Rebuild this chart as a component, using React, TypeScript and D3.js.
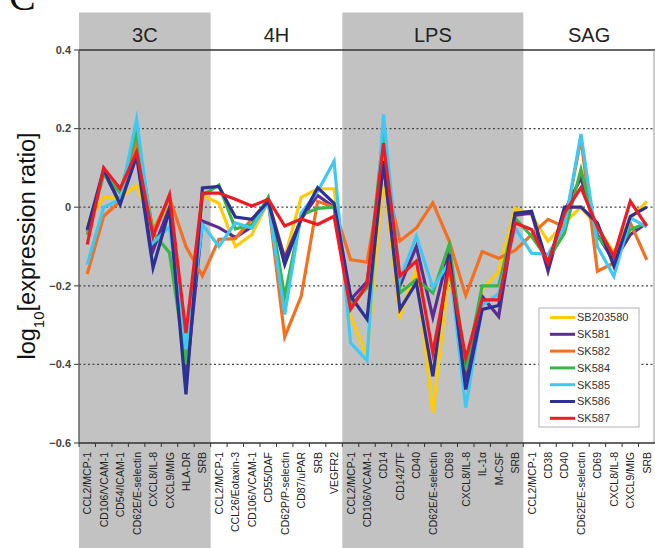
import React, { useEffect, useRef } from 'react';
import * as d3 from 'd3';

// treatments (column groups) and the markers measured in each
const groupNames = ['3C', '4H', 'LPS', 'SAG'];
const markers3C = ['CCL2/MCP-1', 'CD106/VCAM-1', 'CD54/ICAM-1', 'CD62E/E-selectin', 'CXCL8/IL-8', 'CXCL9/MIG', 'HLA-DR', 'SRB'];
const markers4H = ['CCL2/MCP-1', 'CCL26/Eotaxin-3', 'CD106/VCAM-1', 'CD55/DAF', 'CD62P/P-selectin', 'CD87/uPAR', 'SRB', 'VEGFR2'];
const markersLPS = ['CCL2/MCP-1', 'CD106/VCAM-1', 'CD14', 'CD142/TF', 'CD40', 'CD62E/E-selectin', 'CD69', 'CXCL8/IL-8', 'IL-1\u03b1', 'M-CSF', 'SRB'];
const markersSAG = ['CCL2/MCP-1', 'CD38', 'CD40', 'CD62E/E-selectin', 'CD69', 'CXCL8/IL-8', 'CXCL9/MIG', 'SRB'];

const compounds = ['SB203580', 'SK581', 'SK582', 'SK584', 'SK585', 'SK586', 'SK587'];
const compoundColors = ['#ffcb05', '#5c2d91', '#f37021', '#39b54a', '#3fc8f4', '#2e3192', '#ed1c24'];

// log10 expression ratios (3C | 4H | LPS | SAG)
const sb203580 = [
  -0.04, 0.026, 0.024, 0.055, -0.05, 0.0, -0.38, 0.03,
  0.01, -0.1, -0.07, 0.015, -0.128, 0.025, 0.047, 0.047,
  -0.277, -0.38, 0.08, -0.277, -0.158, -0.523, -0.16, -0.44, -0.21, -0.163, -0.003,
  -0.02, -0.087, -0.04, 0.0, -0.05, -0.117, -0.03, 0.015,
];
const sk581 = [
  -0.06, 0.09, 0.01, 0.15, -0.11, 0.0, -0.44, -0.035,
  -0.052, -0.077, -0.05, 0.015, -0.13, -0.03, 0.03, 0.0,
  -0.235, -0.19, 0.104, -0.2, -0.1, -0.28, -0.11, -0.447, -0.227, -0.278, -0.02,
  -0.015, -0.163, -0.01, 0.075, -0.07, -0.138, -0.07, -0.04,
];
const sk582 = [
  -0.17, -0.023, 0.015, 0.163, -0.06, 0.024, -0.1, -0.175,
  -0.082, -0.08, -0.03, 0.015, -0.33, -0.227, 0.015, 0.0,
  -0.133, -0.14, 0.1, -0.086, -0.053, 0.011, -0.087, -0.225, -0.113, -0.13, -0.11,
  -0.07, -0.031, -0.05, 0.175, -0.163, -0.142, -0.04, -0.134,
];
const sk584 = [
  -0.07, 0.083, 0.036, 0.19, -0.065, -0.116, -0.4, 0.03,
  0.056, -0.055, -0.045, 0.025, -0.227, -0.02, -0.003, 0.0,
  -0.25, -0.205, 0.19, -0.218, -0.184, -0.218, -0.095, -0.413, -0.2, -0.2, -0.028,
  -0.074, -0.134, -0.066, 0.096, -0.074, -0.125, -0.057, -0.04,
];
const sk585 = [
  -0.146, 0.0, 0.02, 0.223, -0.09, -0.05, -0.36, -0.044,
  -0.1, -0.04, -0.053, 0.015, -0.273, -0.015, 0.04, 0.117,
  -0.345, -0.39, 0.236, -0.184, -0.074, -0.205, -0.14, -0.51, -0.25, -0.22, -0.053,
  -0.117, -0.12, -0.05, 0.186, -0.1, -0.176, -0.027, -0.05,
];
const sk586 = [
  -0.057, 0.096, 0.007, 0.13, -0.154, -0.006, -0.476, 0.049,
  0.053, -0.025, -0.031, 0.015, -0.146, -0.03, 0.05, 0.01,
  -0.226, -0.285, 0.117, -0.26, -0.192, -0.43, -0.12, -0.464, -0.26, -0.25, -0.015,
  -0.01, -0.15, 0.0, 0.0, -0.04, -0.15, -0.023, 0.0,
];
const sk587 = [
  -0.095, 0.1, 0.047, 0.14, -0.074, 0.032, -0.32, 0.036,
  0.036, 0.02, 0.003, 0.02, -0.048, -0.03, -0.044, -0.023,
  -0.26, -0.197, 0.163, -0.175, -0.137, -0.37, -0.15, -0.384, -0.236, -0.236, -0.04,
  -0.057, -0.142, -0.015, 0.05, -0.05, -0.125, 0.015, -0.048,
];

const yTicks = [0.4, 0.2, 0, -0.2, -0.4, -0.6];

const W = 655;
const H = 548;
const FONT = '"Liberation Sans", Arial, sans-serif';

const App = () => {
  const svgRef = useRef<SVGSVGElement>(null);

  useEffect(() => {
    if (!svgRef.current) return;
    const svg = d3.select(svgRef.current);
    svg.selectAll('*').remove();

    const groupMarkers = [markers3C, markers4H, markersLPS, markersSAG];
    const keys: string[] = [];
    const labels: string[] = [];
    groupMarkers.forEach((list, gi) => {
      list.forEach(m => {
        keys.push(groupNames[gi] + '|' + m);
        labels.push(m);
      });
    });
    const seriesValues = [sb203580, sk581, sk582, sk584, sk585, sk586, sk587];

    const x = d3.scaleBand<string>().domain(keys).range([79, 655]).padding(0);
    const y = d3.scaleLinear().domain([-0.6, 0.4]).range([443, 50]);
    const bw = x.bandwidth();
    const cx = (i: number) => (x(keys[i]) as number) + bw / 2;

    // shaded treatment blocks
    groupNames.forEach((g, gi) => {
      const list = groupMarkers[gi];
      const x0 = x(g + '|' + list[0]) as number;
      const x1 = (x(g + '|' + list[list.length - 1]) as number) + bw;
      if (gi % 2 === 0) {
        svg.append('rect')
          .attr('x', x0).attr('y', 12.5)
          .attr('width', x1 - x0).attr('height', H - 12.5)
          .attr('fill', '#c2c2c2');
      }
      svg.append('text')
        .attr('x', (x0 + x1) / 2).attr('y', 42)
        .attr('text-anchor', 'middle')
        .style('font-family', FONT).style('font-size', '20px')
        .attr('fill', '#222')
        .text(g);
    });

    // grid lines
    svg.append('g').selectAll('line')
      .data(yTicks.filter(t => t !== 0.4 && t !== -0.6))
      .enter().append('line')
      .attr('x1', 79).attr('x2', 655)
      .attr('y1', d => y(d)).attr('y2', d => y(d))
      .attr('stroke', '#444').attr('stroke-width', 1.2)
      .attr('stroke-dasharray', '2,2.5');

    svg.append('line')
      .attr('x1', 79).attr('x2', 655).attr('y1', y(0.4)).attr('y2', y(0.4))
      .attr('stroke', '#333').attr('stroke-width', 1.3);
    svg.append('line')
      .attr('x1', 654).attr('x2', 654).attr('y1', y(0.4)).attr('y2', y(-0.6))
      .attr('stroke', '#999').attr('stroke-width', 1);

    // y axis
    svg.append('line')
      .attr('x1', 79).attr('x2', 79).attr('y1', y(0.4)).attr('y2', y(-0.6))
      .attr('stroke', '#555').attr('stroke-width', 1.3);
    const yt = svg.append('g');
    yt.selectAll('line').data(yTicks).enter().append('line')
      .attr('x1', 74).attr('x2', 79)
      .attr('y1', d => y(d)).attr('y2', d => y(d))
      .attr('stroke', '#555').attr('stroke-width', 1.2);
    yt.selectAll('text').data(yTicks).enter().append('text')
      .attr('x', 71).attr('y', d => y(d)).attr('dy', '0.35em')
      .attr('text-anchor', 'end')
      .style('font-family', FONT).style('font-size', '11px').style('font-weight', 'bold')
      .attr('fill', '#444')
      .text(d => (d === 0 ? '0' : d3.format('.1f')(d)));

    const title = svg.append('text')
      .attr('transform', 'translate(35,246) rotate(-90)')
      .attr('text-anchor', 'middle')
      .style('font-family', FONT).style('font-size', '23.5px')
      .attr('fill', '#111');
    title.append('tspan').text('log');
    title.append('tspan').attr('baseline-shift', 'sub').style('font-size', '15px').text('10');
    title.append('tspan').text('[expression ratio]');

    // lines
    const line = d3.line<number>()
      .x((_, i) => cx(i))
      .y(d => y(d));
    svg.append('g').selectAll('path')
      .data(seriesValues)
      .enter().append('path')
      .attr('d', d => line(d))
      .attr('fill', 'none')
      .attr('stroke', (_, i) => compoundColors[i])
      .attr('stroke-width', 3.2)
      .attr('stroke-linejoin', 'miter')
      .attr('stroke-miterlimit', 6);

    // x axis
    svg.append('line')
      .attr('x1', 79).attr('x2', 655).attr('y1', y(-0.6)).attr('y2', y(-0.6))
      .attr('stroke', '#333').attr('stroke-width', 1.6);
    const bounds = keys.map(k => x(k) as number);
    svg.append('g').selectAll('line').data(bounds).enter().append('line')
      .attr('x1', d => d).attr('x2', d => d)
      .attr('y1', y(-0.6)).attr('y2', y(-0.6) + 4)
      .attr('stroke', '#333').attr('stroke-width', 1);
    svg.append('g').selectAll('text').data(labels).enter().append('text')
      .attr('transform', (_, i) => `translate(${cx(i) + 4},452) rotate(-90)`)
      .attr('text-anchor', 'end')
      .style('font-family', FONT).style('font-size', '10.5px')
      .attr('fill', '#222')
      .text(d => d);

    // legend
    const lg = svg.append('g').attr('transform', 'translate(539,308)');
    lg.append('rect')
      .attr('width', 100).attr('height', 119)
      .attr('fill', '#fff').attr('stroke', '#b0b0b0').attr('stroke-width', 1);
    compounds.forEach((c, i) => {
      const ly = 9.5 + i * 16.8;
      lg.append('line')
        .attr('x1', 11).attr('x2', 36).attr('y1', ly).attr('y2', ly)
        .attr('stroke', compoundColors[i]).attr('stroke-width', 3);
      lg.append('text')
        .attr('x', 38).attr('y', ly).attr('dy', '0.35em')
        .style('font-family', FONT).style('font-size', '11px')
        .attr('fill', '#333')
        .text(c);
    });

    // panel letter, cut at the top edge as in the source figure
    svg.append('text')
      .attr('x', 9).attr('y', 10)
      .style('font-family', '"Liberation Serif", serif').style('font-size', '40px')
      .attr('fill', '#111')
      .text('C');
  }, []);

  return (
    <svg
      ref={svgRef}
      width={W}
      height={H}
      style={{ position: 'absolute', left: 0, top: 0, background: '#fff' }}
    />
  );
};

export default App;
